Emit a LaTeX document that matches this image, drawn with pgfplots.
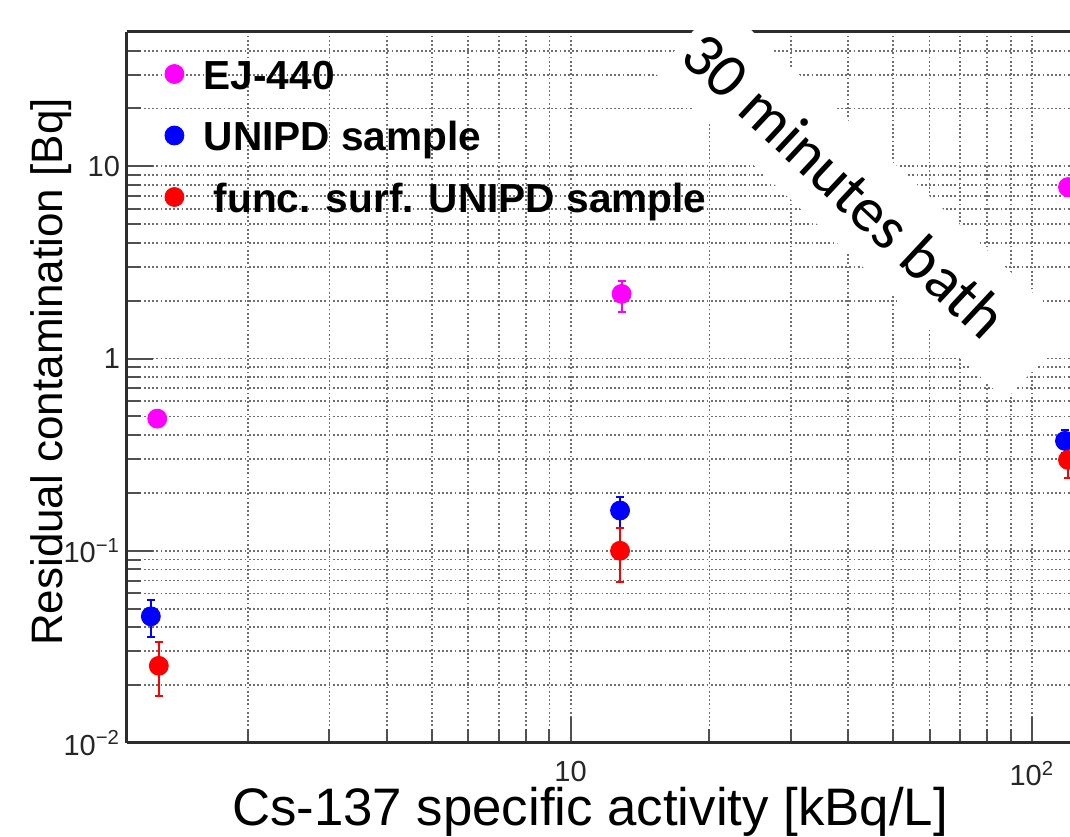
\documentclass[border=0pt]{standalone}
\usepackage{fontspec}
\setmainfont{Liberation Sans}
\newfontfamily\calibri{Carlito}
\usepackage{pgfplots}
\usepackage{pgfplotstable}
\pgfplotsset{compat=1.18}
\definecolor{rootMagenta}{RGB}{255,0,255}
\definecolor{rootBlue}{RGB}{0,0,255}
\definecolor{rootRed}{RGB}{255,0,0}
\definecolor{cFrame}{RGB}{45,45,45}
\definecolor{cTick}{RGB}{80,80,80}
\definecolor{cGrid}{RGB}{110,110,110}

% x = Cs-137 activity [kBq/L], y = residual contamination [Bq]
\pgfplotstableread{
x     y      ep     em
1.27  0.487  0.04   0.04
12.9  2.17   0.37   0.42
119.8 7.8    0.8    0.8
}\ejdata
\pgfplotstableread{
x     y      ep     em
1.23  0.0456 0.010  0.010
12.8  0.162  0.028  0.031
118   0.373  0.054  0.05
}\unipddata
\pgfplotstableread{
x     y      ep     em
1.28  0.0252 0.0082 0.0077
12.8  0.100  0.031  0.031
119.8 0.297  0.05   0.057
}\funcdata

\pgfplotsset{
  rootpts/.style={
    only marks, mark=*, mark size=4.75pt, color=#1,
    error bars/.cd, y dir=both, y explicit,
    error bar style={line width=1pt, color=#1},
    error mark options={rotate=90, mark size=2pt, line width=1pt, color=#1},
  },
}

\begin{document}
\begin{tikzpicture}
\begin{axis}[
  name=ax,
  scale only axis, width=471.5pt, height=355.5pt,
  xmode=log, ymode=log,
  xmin=1.092, xmax=121, ymin=0.01, ymax=50,
  axis x line=box, axis y line=left,
  x axis line style={-, line width=1.5pt, draw=cFrame},
  y axis line style={-, line width=1.5pt, draw=cFrame},
  tick pos=left, tick align=inside,
  major tick length=13pt, minor tick length=7pt,
  every tick/.style={cTick, line width=1pt},
  xtick={10,100}, xticklabels={10, 10\textsuperscript{2}},
  minor xtick={2,3,4,5,6,7,8,9,20,30,40,50,60,70,80,90},
  ytick={0.01,0.1,1,10},
  yticklabels={10\textsuperscript{−2}, 10\textsuperscript{−1}, 1, 10},
  minor ytick={0.02,0.03,0.04,0.05,0.06,0.07,0.08,0.09,0.2,0.3,0.4,0.5,0.6,0.7,0.8,0.9,2,3,4,5,6,7,8,9,20,30,40},
  /pgf/number format/assume math mode=true,
  tick label style={font=\fontsize{14.5}{17}\selectfont, color=black!85},
  xticklabel shift=5.5pt,
  grid=both,
  major grid style={cGrid, line width=0.9pt, dash pattern=on 0.9pt off 1.2pt},
  minor grid style={cGrid, line width=0.9pt, dash pattern=on 0.9pt off 1.2pt},
  xlabel={Cs-137 specific activity [kBq/L]},
  xlabel style={at={(axis description cs:0.491,-0.1167)}, anchor=base,
                font=\fontsize{26.4}{30}\selectfont, inner sep=0pt},
  ylabel={Residual contamination [Bq]},
  ylabel style={at={(axis description cs:-0.0679,0.5218)}, anchor=base,
                font=\fontsize{22}{26}\selectfont, inner sep=0pt},
  legend image code/.code={
    \path (0pt,0pt) (19.25pt,0pt);
    \draw[#1] plot coordinates {(4.75pt,2.25pt)};
  },
  legend style={at={(axis description cs:0.0398,0.962)}, anchor=north west,
                draw=none, fill=none, inner sep=0pt, outer sep=0pt,
                row sep=11.25pt,
                font=\fontsize{20.3}{24}\selectfont\bfseries,
                nodes={inner sep=0pt, text height=15pt, text depth=4.5pt}},
  legend cell align=left,
]
\addplot[rootpts=rootMagenta] table[x=x, y=y, y error plus=ep, y error minus=em] {\ejdata};
\addplot[rootpts=rootBlue] table[x=x, y=y, y error plus=ep, y error minus=em] {\unipddata};
\addplot[rootpts=rootRed] table[x=x, y=y, y error plus=ep, y error minus=em] {\funcdata};
\legend{EJ-440, UNIPD sample, \hspace{5pt}func. surf. UNIPD sample}
\end{axis}
% white label band laid over the frame
\node[fill=white, rotate=-43, minimum width=240pt, minimum height=48.5pt, inner sep=0pt]
  at ([shift={(368pt,271.1pt)}]ax.south west) {};
\node[rotate=-43, inner sep=0pt, font=\calibri\fontsize{31.4}{36}\selectfont]
  at ([shift={(359pt,279pt)}]ax.south west) {30 minutes bath};
\pgfresetboundingbox
\path[use as bounding box] ([shift={(-63.5pt,-47pt)}]ax.south west) rectangle ([shift={(0pt,16pt)}]ax.north east);
\end{tikzpicture}
\end{document}
